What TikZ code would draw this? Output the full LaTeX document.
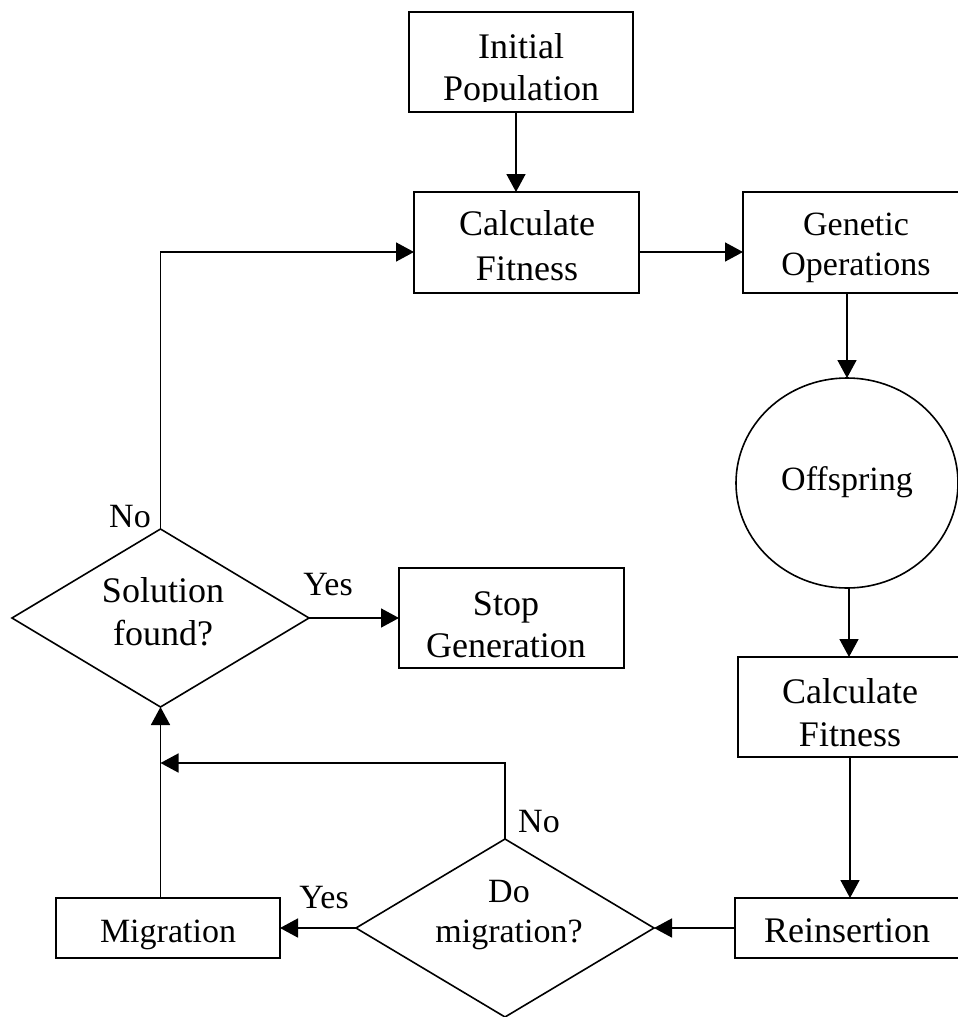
\documentclass[tikz,border=0pt]{standalone}
\usepackage{fontspec}
\setmainfont{Liberation Serif}
\usetikzlibrary{arrows.meta,shapes.geometric}
\begin{document}
\begin{tikzpicture}[x=1pt,y=-1pt,
  shp/.style={draw,line width=1.6pt,inner sep=0pt,outer sep=0pt},
  txt/.style={anchor=base,inner sep=0pt,font=\fontsize{36}{43}\selectfont},
  stxt/.style={anchor=base,inner sep=0pt,font=\fontsize{34}{41}\selectfont},
  lbl/.style={anchor=base,inner sep=0pt,font=\fontsize{34}{41}\selectfont},
  arr/.style={line width=1.6pt,-{Triangle[length=18pt,width=19pt]}}]
\clip (0,0) rectangle (958,1017);
% shapes
\node[shp,rectangle,minimum width=224pt,minimum height=100pt] (init) at (521,62) {};
\node[shp,rectangle,minimum width=225pt,minimum height=101pt] (calcA) at (526.5,242.5) {};
\node[shp,rectangle,minimum width=225pt,minimum height=101pt] (genop) at (855.5,242.5) {};
\node[shp,ellipse,minimum width=222pt,minimum height=210pt] (offs) at (847,483) {};
\node[shp,rectangle,minimum width=224pt,minimum height=100pt] (calcB) at (850,707) {};
\node[shp,rectangle,minimum width=225pt,minimum height=60pt] (reins) at (847.5,928) {};
\node[shp,rectangle,minimum width=224pt,minimum height=60pt] (migr) at (168,928) {};
\node[shp,diamond,minimum width=298pt,minimum height=178pt] (domig) at (505,928) {};
\node[shp,diamond,minimum width=297pt,minimum height=178pt] (sol) at (160.5,618) {};
\node[shp,rectangle,minimum width=225pt,minimum height=100pt] (stop) at (511.5,618) {};
% texts
\node[txt] (initT1) at (521,58) {Initial};
\begin{scope}
\clip (409,12) rectangle (633,101.5);
\node[txt] (initT2) at (521,100) {Population};
\end{scope}
\node[txt] (calcAT1) at (527,235) {Calculate};
\node[txt] (calcAT2) at (527,280) {Fitness};
\node[stxt] (genopT1) at (856,235) {Genetic};
\node[stxt] (genopT2) at (856,275) {Operations};
\node[stxt] (offsT) at (847,490) {Offspring};
\node[txt] (calcBT1) at (850,703) {Calculate};
\node[txt] (calcBT2) at (850,746) {Fitness};
\node[txt] (reinsT) at (847,942) {Reinsertion};
\node[stxt] (migrT) at (168,942) {Migration};
\node[stxt] (domigT1) at (509,902) {Do};
\node[stxt] (domigT2) at (509,942) {migration?};
\node[txt] (solT1) at (163,602) {Solution};
\node[txt] (solT2) at (163,645) {found?};
\node[txt] (stopT1) at (506,615) {Stop};
\node[txt] (stopT2) at (506,657) {Generation};
% branch labels
\node[lbl] (yesA) at (328,595) {Yes};
\node[lbl] (noA) at (130,527) {No};
\node[lbl] (yesB) at (324,908) {Yes};
\node[lbl] (noB) at (539,832) {No};
% connectors
\coordinate (r1) at (0,252);
\coordinate (r2) at (0,763);
\draw[arr] ([xshift=-5pt]init.south) -- ([xshift=-5pt]init.south |- calcA.north);
\draw[arr] (calcA.east |- r1) -- (genop.west |- r1);
\draw[arr] (offs.north |- genop.south) -- (offs.north);
\draw[arr] ([xshift=2pt]offs.south) -- ([xshift=2pt]offs.south |- calcB.north);
\draw[arr] (calcB.south) -- (calcB.south |- reins.north);
\draw[arr] (reins.west) -- (domig.east);
\draw[arr] (domig.west) -- (migr.east);
\draw[arr] (domig.north) |- (sol.south |- r2);
\draw[arr] (sol.south |- migr.north) -- (sol.south);
\draw[arr] (sol.north) |- (calcA.west |- r1);
\draw[arr] (sol.east) -- (stop.west);
\end{tikzpicture}
\end{document}
